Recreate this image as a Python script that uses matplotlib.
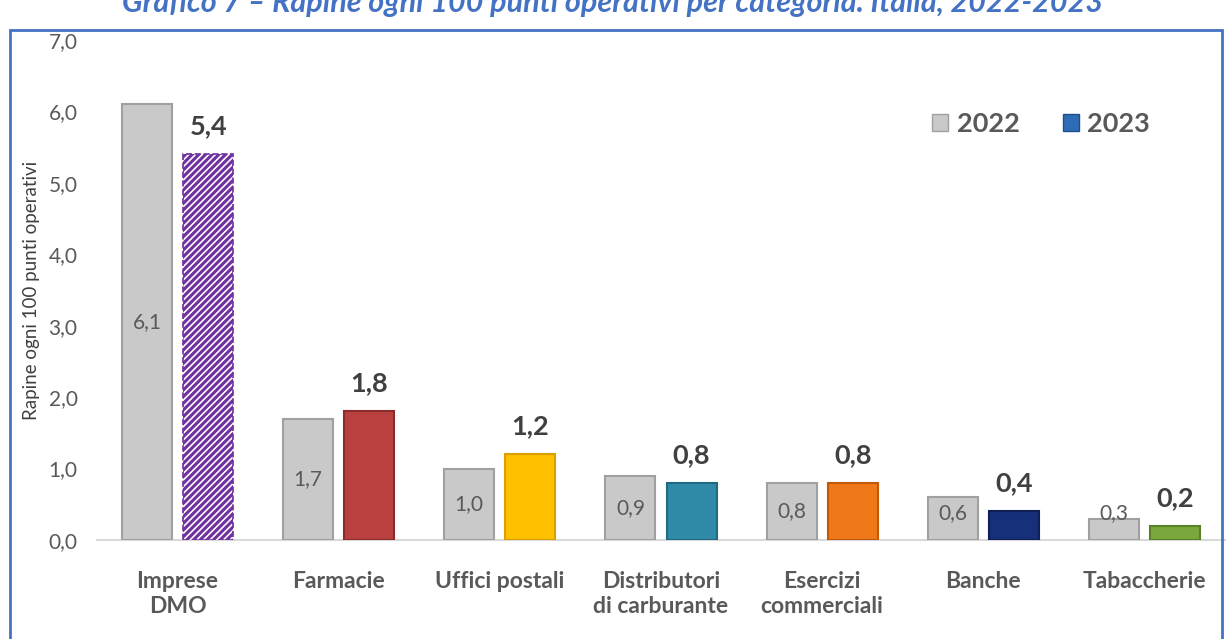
import numpy as np
import matplotlib.pyplot as plt
from matplotlib.patches import Rectangle

categorie = ["Imprese\nDMO", "Farmacie", "Uffici postali", "Distributori\ndi carburante",
             "Esercizi\ncommerciali", "Banche", "Tabaccherie"]
val_2022 = [6.1, 1.7, 1.0, 0.9, 0.8, 0.6, 0.3]
val_2023 = [5.4, 1.8, 1.2, 0.8, 0.8, 0.4, 0.2]
colori_2023 = ["#ffffff", "#b8413f", "#ffc000", "#2f8aa8", "#f07818", "#17307a", "#7aa83c"]
bordi_2023 = ["#7030a0", "#8c2c2a", "#d9a000", "#1f6a82", "#c05a08", "#0e1f55", "#5a8028"]
anni = ["2022", "2023"]

plt.rcParams['font.family'] = ['Lato', 'DejaVu Sans']
plt.rcParams['hatch.linewidth'] = 2.2

fig = plt.figure(figsize=(12.26, 6.39), dpi=100)
ax = fig.add_axes([97/1226, 1-540/639, (1225-97)/1226, 500/639])

x = np.arange(len(categorie))
w = 0.31
off = 0.19

ax.bar(x - off, val_2022, w, color="#c9c9c9", edgecolor="#a0a0a0", linewidth=1.5, zorder=3)
for i in range(len(x)):
    if i == 0:
        ax.bar(x[i] + off, val_2023[i], w, color="white", edgecolor="#7030a0",
               hatch="/////", linewidth=1.2, linestyle="--", zorder=3)
    else:
        ax.bar(x[i] + off, val_2023[i], w, color=colori_2023[i], edgecolor=bordi_2023[i],
               linewidth=1.5, zorder=3)

for i in range(len(x)):
    ax.text(x[i] - off, max(val_2022[i] / 2, 0.38), f"{val_2022[i]:.1f}".replace(".", ","),
            ha="center", va="center", fontsize=15, color="#595959", zorder=4)
    ax.text(x[i] + off, val_2023[i] + 0.39, f"{val_2023[i]:.1f}".replace(".", ","),
            ha="center", va="center", fontsize=19.5, fontweight="bold", color="#404040", zorder=4)

ax.set_xlim(-0.5, 6.5)
ax.set_ylim(0, 7)
ax.set_yticks(np.arange(0, 7.1, 1))
ax.set_yticklabels([f"{v:.1f}".replace(".", ",") for v in np.arange(0, 7.1, 1)],
                   fontsize=15, color="#595959")
ax.set_xticks(x)
ax.set_xticklabels(categorie, fontsize=16.5, fontweight="bold", color="#595959", linespacing=1.25)
ax.tick_params(axis="both", length=0)
ax.tick_params(axis="y", pad=14)
ax.tick_params(axis="x", pad=22)
for s in ["top", "right", "left"]:
    ax.spines[s].set_visible(False)
ax.spines["bottom"].set_color("#d9d9d9")
ax.spines["bottom"].set_linewidth(1.5)

ax.set_ylabel("Rapine ogni 100 punti operativi", fontsize=13.5, color="#404040", labelpad=6)

# legenda
h1 = Rectangle((0, 0), 1, 1, facecolor="#c9c9c9", edgecolor="#a0a0a0")
h2 = Rectangle((0, 0), 1, 1, facecolor="#2e6cb5", edgecolor="#1f4f8a")
leg = ax.legend([h1, h2], anni, loc="upper right", bbox_to_anchor=(0.955, 0.905), ncol=2,
                frameon=False, prop={"size": 19.5, "weight": "bold"}, handlelength=0.6,
                handleheight=0.6, columnspacing=1.6, handletextpad=0.3)
for t in leg.get_texts():
    t.set_color("#595959")

# cornice e titolo
fig.patches.append(Rectangle((10/1226, -0.1), 1212/1226, 1.1 - 30/639, transform=fig.transFigure,
                             fill=False, edgecolor="#4472c4", linewidth=2))
fig.text(0.5, 1 - 3/639, "Grafico 7 – Rapine ogni 100 punti operativi per categoria. Italia, 2022-2023",
         ha="center", va="center", fontsize=22, fontweight="bold", style="italic", color="#4472c4")

fig.savefig("out.png", dpi=100)
